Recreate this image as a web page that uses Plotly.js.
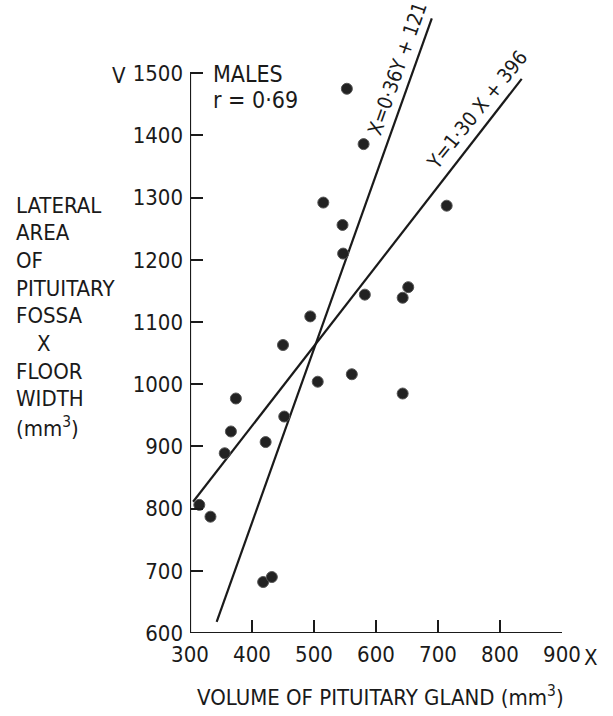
<!DOCTYPE html>
<html>
<head>
<meta charset="utf-8">
<script src="https://cdn.plot.ly/plotly-3.0.1.min.js"></script>
<style>html,body{margin:0;padding:0;background:#fff;}#chart{width:613px;height:716px;}</style>
</head>
<body>
<div id="chart"></div>
<script>
// Data
const volumeX = [553, 580, 515, 546, 547, 714, 494, 582, 652, 643, 450, 506, 561, 643, 374, 452, 366, 422, 356, 315, 333, 418, 432];
const areaY   = [1475, 1386, 1292, 1256, 1210, 1287, 1109, 1144, 1156, 1139, 1063, 1004, 1016, 985, 977, 948, 924, 907, 889, 806, 787, 682, 690];
// regression line Y on X (drawn end points)
const regYX_x = [305, 835];
const regYX_y = [811, 1491];
// regression line X on Y (drawn end points)
const regXY_x = [343, 690];
const regXY_y = [618, 1588];
const xTicks = [300, 400, 500, 600, 700, 800, 900];
const yTicks = [600, 700, 800, 900, 1000, 1100, 1200, 1300, 1400, 1500];
const yTitleLines = ["LATERAL", "AREA", "OF", "PITUITARY", "FOSSA", "X", "FLOOR", "WIDTH", "(mm<sup>3</sup>)"];

const FONT = "DejaVu Sans Condensed, Liberation Sans Narrow, sans-serif";
const INK = "#1a1a1a";

const L = 190, R = 51, T = 11, B = 83, W = 613, H = 716;
const pw = W - L - R, ph = H - T - B;
const xr = [300, 900], yr = [600, 1600];
function pxp(px) { return (px - L) / pw; }
function pyp(py) { return (H - B - py) / ph; }

const traces = [
  {x: regYX_x, y: regYX_y, mode: "lines", line: {color: INK, width: 2.2}, hoverinfo: "skip"},
  {x: regXY_x, y: regXY_y, mode: "lines", line: {color: INK, width: 2.2}, hoverinfo: "skip"},
  {x: volumeX, y: areaY, mode: "markers", cliponaxis: false,
   marker: {size: 11, color: "#222", line: {color: "#555", width: 1}}}
];

const ann = [];
function addText(text, px, py, opts) {
  ann.push(Object.assign({text: text, x: pxp(px), y: pyp(py), xref: "paper", yref: "paper",
    showarrow: false, font: {family: FONT, size: 22, color: INK}}, opts || {}));
}
yTitleLines.forEach((t, i) => {
  addText(t, t === "X" ? 35 : 14, 205 + i * 27.7, {xanchor: "left", yanchor: "middle"});
});
addText("VOLUME OF PITUITARY GLAND (mm<sup>3</sup>)", 380, 696, {xanchor: "center", yanchor: "middle"});
addText("MALES", 211, 74, {xanchor: "left", yanchor: "middle", font: {family: FONT, size: 23, color: INK}});
addText("r = 0·69", 211, 100, {xanchor: "left", yanchor: "middle", font: {family: FONT, size: 23, color: INK}});
addText("V", 119, 76, {xanchor: "center", yanchor: "middle", font: {family: FONT, size: 22, color: INK}});
addText("X", 582, 657, {xanchor: "left", yanchor: "middle", font: {family: FONT, size: 22, color: INK}});
addText("X=0·36Y + 121", 397, 69, {xanchor: "center", yanchor: "middle", textangle: -70.5, font: {family: FONT, size: 20, color: INK}});
addText("Y=1·30 X + 396", 477, 110, {xanchor: "center", yanchor: "middle", textangle: -51, font: {family: FONT, size: 20, color: INK}});

const layout = {
  width: W, height: H,
  margin: {l: L, r: R, t: T, b: B, pad: 0},
  paper_bgcolor: "#fff", plot_bgcolor: "#fff",
  showlegend: false,
  xaxis: {range: xr, tickvals: xTicks, ticktext: xTicks.map(String), ticks: "inside", ticklen: 13, tickwidth: 2,
          tickcolor: INK, showline: false, showgrid: false, zeroline: false, ticklabelstandoff: 6,
          tickfont: {family: FONT, size: 22, color: INK}, fixedrange: true},
  yaxis: {range: yr, tickvals: yTicks, ticktext: yTicks.map(String), ticks: "inside", ticklen: 13, tickwidth: 2,
          tickcolor: INK, showline: false, showgrid: false, zeroline: false, ticklabelstandoff: 6,
          tickfont: {family: FONT, size: 22, color: INK}, fixedrange: true},
  shapes: [
    {type: "line", xref: "x", yref: "y", x0: 300, x1: 300, y0: 600, y1: 1500, line: {color: INK, width: 2.2}},
    {type: "line", xref: "x", yref: "y", x0: 300, x1: 900, y0: 600, y1: 600, line: {color: INK, width: 2.2}}
  ],
  annotations: ann
};
Plotly.newPlot("chart", traces, layout, {displayModeBar: false, staticPlot: true});
</script>
</body>
</html>
